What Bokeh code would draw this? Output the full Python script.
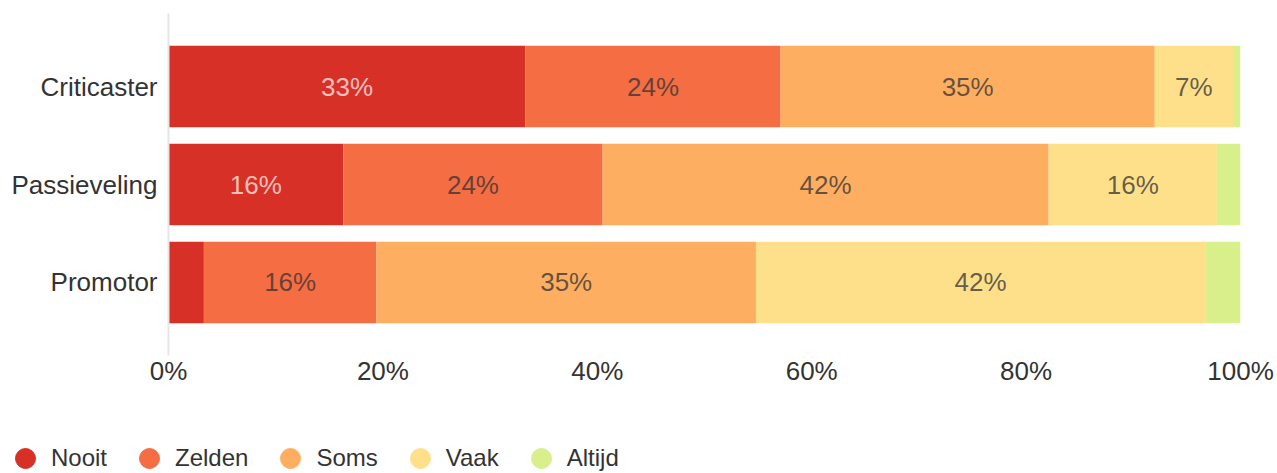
from bokeh.plotting import figure
from bokeh.layouts import column, row
from bokeh.models import ColumnDataSource, FactorRange, Range1d, FixedTicker, Legend, LegendItem
from bokeh.core.properties import value
from bokeh.embed import file_html
from bokeh.resources import INLINE

categories = ["Criticaster", "Passieveling", "Promotor"]
series = ["Nooit", "Zelden", "Soms", "Vaak", "Altijd"]
nooit = [33.3, 16.3, 3.3]
zelden = [23.8, 24.2, 16.1]
soms = [34.9, 41.6, 35.4]
vaak = [7.3, 15.7, 41.9]
altijd = [0.7, 2.2, 3.3]
colors = ["#d73027", "#f46d43", "#fdae61", "#fee08b", "#d9ef8b"]
label_colors = ["#ffffff", "#333333", "#333333", "#333333", "#333333"]
label_alphas = [0.7, 0.75, 0.75, 0.75, 0.75]
x_ticks = [0, 20, 40, 60, 80, 100]
x_tick_labels = ["0%", "20%", "40%", "60%", "80%", "100%"]

FONT = "Liberation Sans"
values = [nooit, zelden, soms, vaak, altijd]

data = {"cat": categories}
for s, v in zip(series, values):
    data[s] = v
source = ColumnDataSource(data)

p = figure(
    width=1277, height=425, title=None,
    y_range=FactorRange(factors=categories[::-1], range_padding=0.245, range_padding_units="absolute"),
    x_range=Range1d(0, 100),
    output_backend="svg", toolbar_location=None,
    min_border_left=168, min_border_right=37, min_border_top=13, min_border_bottom=70,
)
p.outline_line_color = None
p.xgrid.visible = False
p.ygrid.visible = False

p.hbar_stack(series, y="cat", height=0.83, color=colors, line_width=0, source=source)

# segment labels
cum = [0.0] * len(categories)
for s, v, tc, ta in zip(series, values, label_colors, label_alphas):
    xs, ys, ts = [], [], []
    for i, c in enumerate(categories):
        if v[i] >= 5:
            xs.append(cum[i] + v[i] / 2)
            ys.append(c)
            ts.append(f"{round(v[i])}%")
        cum[i] += v[i]
    p.text(x=xs, y=ys, text=ts, text_align="center", text_baseline="middle",
           text_font=value(FONT), text_font_size="26px", text_color=tc, text_alpha=ta)

# axes
p.yaxis.axis_line_color = "#e6e6e6"
p.yaxis.axis_line_width = 2
p.yaxis.major_tick_line_color = None
p.yaxis.minor_tick_line_color = None
p.yaxis.major_tick_out = 0
p.yaxis.major_tick_in = 0
p.yaxis.major_label_standoff = 11
p.yaxis.major_label_text_font = FONT
p.yaxis.major_label_text_font_size = "26px"
p.yaxis.major_label_text_color = "#333333"

p.xaxis.axis_line_color = None
p.xaxis.major_tick_line_color = None
p.xaxis.minor_tick_line_color = None
p.xaxis.major_tick_out = 0
p.xaxis.major_tick_in = 0
p.xaxis.ticker = FixedTicker(ticks=x_ticks)
p.xaxis.major_label_overrides = dict(zip(x_ticks, x_tick_labels))
p.xaxis.major_label_standoff = 0
p.xaxis.major_label_text_font = FONT
p.xaxis.major_label_text_font_size = "26px"
p.xaxis.major_label_text_color = "#333333"

# legend in its own strip below the chart
lg = figure(
    width=1277, height=48, title=None, x_range=Range1d(0, 1), y_range=Range1d(0, 1),
    x_axis_type=None, y_axis_type=None, output_backend="svg", toolbar_location=None,
    min_border_left=0, min_border_right=0, min_border_top=0, min_border_bottom=0,
)
lg.outline_line_color = None
lg.xgrid.visible = False
lg.ygrid.visible = False
items = []
for s, c in zip(series, colors):
    # marker kept outside the visible range; only its legend swatch shows
    r = lg.scatter(x=[-10], y=[-10], marker="circle", size=20, fill_color=c, line_color=c)
    items.append(LegendItem(label=s, renderers=[r]))
legend = Legend(items=items, orientation="horizontal", location=(0, -10),
                glyph_width=50, glyph_height=50, label_standoff=1, spacing=17,
                padding=0, margin=0, border_line_color=None, background_fill_alpha=0,
                label_text_font=FONT, label_text_font_size="24px", label_text_color="#333333")
lg.add_layout(legend, "center")

layout = column(row(p), row(lg), spacing=0)
open("out.html", "w").write(file_html(layout, INLINE))
